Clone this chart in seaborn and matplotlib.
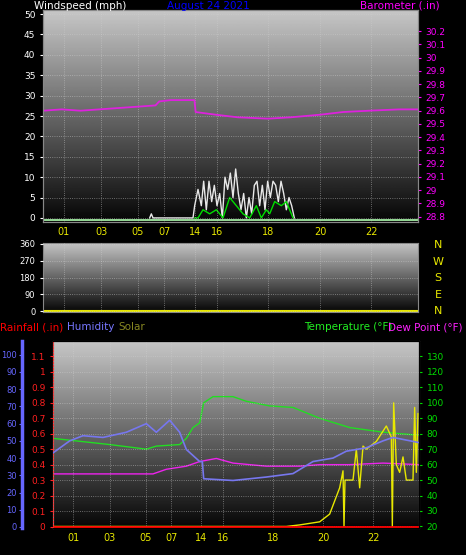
import numpy as np
import pandas as pd
import matplotlib
matplotlib.use("Agg")
import matplotlib.pyplot as plt
import seaborn as sns

# x positions are fractions of the plot width (the time axis has a gap)
tick_pos = [0.056, 0.155, 0.253, 0.323, 0.405, 0.464, 0.60, 0.739, 0.875]
tick_lab = ["01", "03", "05", "07", "14", "16", "18", "20", "22"]

baro_x = [0.0, 0.05, 0.1, 0.15, 0.2, 0.25, 0.3, 0.31, 0.34, 0.404, 0.407, 0.46, 0.52, 0.6, 0.66, 0.74, 0.8, 0.87, 0.95, 1.0]
baro_y = [29.60, 29.61, 29.60, 29.61, 29.62, 29.63, 29.64, 29.67, 29.68, 29.68, 29.59, 29.57, 29.55, 29.54, 29.55, 29.57, 29.59, 29.60, 29.61, 29.61]

gust_zx = [450, 455, 460, 580, 585, 595, 605, 612, 620, 628, 636, 644, 652, 660, 668, 676, 684, 692, 700, 708, 716, 724, 732,
           740, 748, 756, 764, 772, 780, 788, 796, 804, 812, 820, 828, 836, 844, 852, 860, 868, 876, 884]
gust_y = [0, 1, 0, 0, 3, 7, 3, 9, 2, 9, 4, 8, 3, 6, 0, 10, 7, 11, 5, 12, 6, 2, 6,
          0, 5, 1, 8, 9, 3, 8, 2, 9, 5, 9, 8, 4, 9, 6, 2, 5, 3, 0]
avg_zx = [585, 595, 610, 630, 650, 670, 690, 710, 730, 750, 770, 785, 800, 810, 825, 845, 860, 880]
avg_y = [0, 0, 2, 1, 2, 0, 5, 3, 1, 0, 3, 0, 2, 1, 4, 3, 4, 0]

temp_zx = [160, 330, 440, 470, 540, 560, 580, 600, 612, 640, 700, 740, 810, 880, 960, 1050, 1150, 1258]
temp_y = [77, 73, 70, 72, 73, 77, 84, 87, 100, 104, 104, 101, 98, 97, 90, 84, 81, 79]
hum_zx = [160, 210, 250, 310, 380, 440, 470, 510, 540, 560, 600, 608, 612, 700, 800, 880, 940, 1000, 1040, 1100, 1150, 1180, 1258]
hum_y = [43, 50, 53, 52, 55, 60, 55, 62, 55, 45, 38, 38, 28, 27, 29, 31, 38, 40, 44, 46, 50, 52, 49]
dew_zx = [160, 300, 460, 500, 560, 600, 650, 700, 800, 900, 960, 1050, 1150, 1258]
dew_y = [54, 54, 54, 57, 59, 62, 64, 61, 59, 59, 60, 60, 61, 60]
solar_zx = [160, 860, 900, 960, 990, 1020, 1030, 1033, 1036, 1060, 1070, 1080, 1090, 1100, 1130, 1160, 1175,
            1178, 1182, 1190, 1200, 1210, 1220, 1240, 1245, 1250, 1255]
solar_y = [20, 20, 21, 23, 28, 45, 56, 20, 50, 50, 70, 45, 72, 70, 75, 85, 78,
           20, 100, 60, 55, 65, 50, 50, 97, 55, 93]
rain_x = [0.0, 1.0]
rain_y = [0.0, 0.0]

top = lambda z: [(v - 130) / 1125 for v in z]
bot = lambda z: [(v - 160) / 1098 for v in z]

W, H = 466, 555
fig = plt.figure(figsize=(W / 100, H / 100), dpi=100, facecolor="black")
grad = np.linspace(0.78, 0.02, 256).reshape(-1, 1)


def panel(l, t, r, b):
    ax = fig.add_axes([l / W, 1 - b / H, (r - l) / W, (b - t) / H])
    ax.set_facecolor("black")
    ax.imshow(grad, cmap="gray", vmin=0, vmax=1, aspect="auto", extent=[0, 1, 0, 1],
              transform=ax.transAxes, zorder=0)
    ax.set_xlim(0, 1)
    ax.set_xticks(tick_pos)
    ax.set_xticklabels(tick_lab)
    ax.tick_params(axis="x", colors="#e8e800", labelsize=7, length=0)
    ax.grid(True, color="#d0d0d0", ls=":", lw=0.6, alpha=0.6)
    ax.set_axisbelow(False)
    for s in ax.spines.values():
        s.set_color("#888888")
    return ax


# Top: wind + barometer
ax1 = panel(43, 10, 418, 222)
ax1.set_ylim(-1, 51)
ax1.set_yticks(range(0, 51, 5))
ax1.tick_params(axis="y", colors="white", labelsize=6.5, length=2)
ax1.axhline(-0.5, color="#b0ffb0", lw=1.2)
sns.lineplot(x=top(gust_zx), y=gust_y, ax=ax1, color="#e8e8e8", lw=1, estimator=None, sort=False)
sns.lineplot(x=top(avg_zx), y=avg_y, ax=ax1, color="#00dd00", lw=1, estimator=None, sort=False)
ax1b = ax1.twinx()
ax1b.set_ylim(28.76, 30.36)
ax1b.set_yticks(np.round(np.arange(28.8, 30.25, 0.1), 1))
ax1b.set_yticklabels([f"{v:g}" for v in np.round(np.arange(28.8, 30.25, 0.1), 1)])
ax1b.tick_params(axis="y", colors="#ff00ff", labelsize=6.5, length=2)
sns.lineplot(x=baro_x, y=baro_y, ax=ax1b, color="#dd22dd", lw=1.3, estimator=None)
for s in ax1b.spines.values():
    s.set_color("#888888")
fig.text(34 / W, 1 - 6 / H, "Windspeed (mph)", color="white", fontsize=7.5, va="center")
fig.text(208 / W, 1 - 6 / H, "August 24 2021", color="#0000ff", fontsize=7.5, va="center", ha="center")
fig.text(440 / W, 1 - 6 / H, "Barometer (.in)", color="#ff00ff", fontsize=7.5, va="center", ha="right")

# Middle: wind direction
ax2 = panel(43, 243, 418, 312)
ax2.set_ylim(-5, 365)
ax2.set_yticks([0, 90, 180, 270, 360])
ax2.tick_params(axis="y", colors="white", labelsize=6, length=2)
ax2.set_xticklabels([])
ax2.axhline(0, color="#e8e800", lw=1.5)
for i, c in enumerate(["N", "W", "S", "E", "N"]):
    fig.text(438 / W, 1 - (245 + i * 16.5) / H, c, color="#e8e800", fontsize=8, ha="center", va="center")

# Bottom: temperature, humidity, rain, solar
ax3 = panel(53, 341, 419, 528)
ax3.set_ylim(19, 140)
sns.lineplot(x=bot(temp_zx), y=temp_y, ax=ax3, color="#22dd22", lw=1, estimator=None)
sns.lineplot(x=bot(dew_zx), y=dew_y, ax=ax3, color="#ee22ee", lw=1, estimator=None)
sns.lineplot(x=bot(solar_zx), y=solar_y, ax=ax3, color="#e8e800", lw=1, estimator=None, sort=False)

axr = ax3.twinx()
axh = ax3.twinx()
ax3.yaxis.tick_right()
ax3.set_yticks(range(20, 131, 10))
ax3.tick_params(axis="y", colors="#00dd00", labelsize=6.5, length=2, left=False, labelleft=False,
                right=True, labelright=True)

axr.yaxis.tick_left()
axr.set_ylim(-0.007, 1.2)
axr.set_yticks(np.round(np.arange(0, 1.15, 0.1), 1))
axr.set_yticklabels(["0"] + [f"{v:g}" for v in np.round(np.arange(0.1, 1.15, 0.1), 1)])
axr.tick_params(axis="y", colors="#ff2020", labelsize=6.5, length=2)
axr.spines["left"].set_color("#ff3030")
axr.spines["left"].set_linestyle(":")
sns.lineplot(x=rain_x, y=rain_y, ax=axr, color="#ff0000", lw=2, estimator=None)

axh.yaxis.tick_left()
axh.spines["left"].set_position(("outward", 22))
axh.spines["left"].set_visible(True)
axh.spines["left"].set_color("#6666ff")
axh.spines["left"].set_linewidth(2.5)
axh.set_ylim(-0.6, 108)
axh.set_yticks(range(0, 101, 10))
axh.tick_params(axis="y", colors="#6666ff", labelsize=6, length=2, pad=2)
sns.lineplot(x=bot(hum_zx), y=hum_y, ax=axh, color="#7777ee", lw=1.2, estimator=None)

fig.text(0, 1 - 327 / H, "Rainfall (.in)", color="#ff0000", fontsize=7.5, va="center")
fig.text(67 / W, 1 - 327 / H, "Humidity", color="#7777ff", fontsize=7.5, va="center")
fig.text(118 / W, 1 - 327 / H, "Solar", color="#888822", fontsize=7.5, va="center")
fig.text(392 / W, 1 - 327 / H, "Temperature (°F)", color="#22ee22", fontsize=7.5, va="center", ha="right")
fig.text(462 / W, 1 - 327 / H, "Dew Point (°F)", color="#ff22ff", fontsize=7.5, va="center", ha="right")

fig.savefig("out.png", dpi=100, facecolor="black")
